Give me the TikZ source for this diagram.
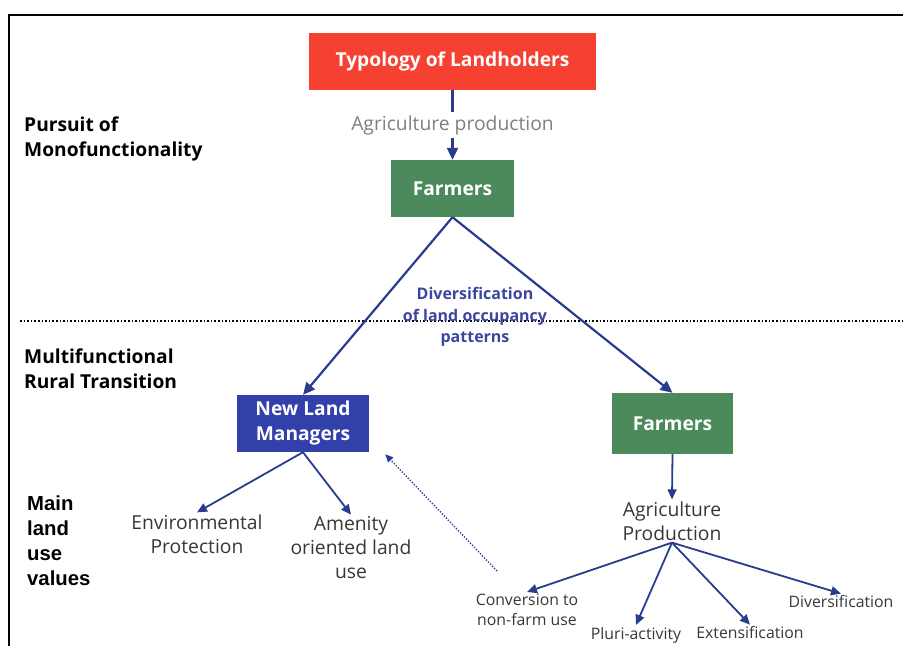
\documentclass[tikz,border=0pt]{standalone}
\usepackage{fontspec}
\setmainfont{Open Sans}
\newfontfamily\arialfont{Liberation Sans}
\usetikzlibrary{arrows.meta, positioning}

\definecolor{typred}{RGB}{246,64,50}
\definecolor{farmgreen}{RGB}{76,138,92}
\definecolor{nlmblue}{RGB}{50,64,170}
\definecolor{arrowblue}{RGB}{42,60,142}
\definecolor{divblue}{RGB}{60,70,160}
\definecolor{softgray}{RGB}{128,128,128}
\definecolor{darktext}{RGB}{55,55,55}

\begin{document}
\begin{tikzpicture}[x=1pt, y=-1pt,
      box/.style   = {inner sep=0pt, align=center, text=white,
                      font=\fontsize{19.2}{25}\selectfont\bfseries},
      side/.style  = {anchor=west, align=left, inner sep=0pt,
                      font=\fontsize{19.2}{25}\selectfont\bfseries},
      val/.style   = {align=center, inner sep=2pt, text=darktext,
                      font=\fontsize{19.3}{24}\selectfont},
      small/.style = {align=center, inner sep=2pt, text=darktext,
                      font=\fontsize{15.8}{20}\selectfont},
      arr/.style   = {-{Triangle[length=12pt, width=11pt]}, line width=2.2pt, arrowblue},
      tarr/.style  = {-{Triangle[length=10pt, width=9pt]}, line width=1.8pt, arrowblue},
      darr/.style  = {-{Triangle[length=8pt, width=7pt]}, line width=1.4pt, arrowblue,
                      dash pattern=on 1.3pt off 1.6pt}
    ]
    \useasboundingbox (0,0) rectangle (903,646);

    % ---- frame and separator ----
    \coordinate (frameb) at (9,646);
    \coordinate (framec) at (9,15);
    \coordinate (framer) at (903,15);
    \draw[line width=1.3pt] (frameb) -- (framec) -- (framer);
    \coordinate (sepl) at (20,321);
    \coordinate (sepr) at (903,321);
    \draw[line width=1.6pt, dotted] (sepl) -- (sepr);

    % ---- side labels ----
    \node[side] (pursuit) at (24,139) {Pursuit of\\Monofunctionality};
    \node[side] (multi)   at (24,369) {Multifunctional\\Rural Transition};
    \node[side, font=\arialfont\fontsize{20.3}{25}\selectfont\bfseries]
          (mainval) at (27,541) {Main\\land\\use\\values};

    % ---- top of the tree ----
    \node[box, fill=typred, minimum width=287pt, minimum height=57pt]
          (typ)   at (452.5,61.5) {Typology of Landholders};
    \node[box, fill=farmgreen, minimum width=123pt, minimum height=57pt]
          (farm)  at (452.5,188.5) {Farmers};

    \draw[arr] (typ) -- node[fill=white, inner sep=3pt, text=softgray,
          font=\fontsize{19.3}{22}\selectfont, pos=0.5] {Agriculture production} (farm);

    % ---- second level ----
    \node[box, fill=nlmblue, minimum width=132pt, minimum height=57pt]
          (nlm)   at (303,423.5) {New Land\\Managers};
    \node[box, fill=farmgreen, minimum width=121pt, minimum height=61pt]
          (farm2) at (672.5,423.5) {Farmers};

    \draw[arr] (farm.south) -- (nlm.north);
    \draw[arr] (farm.south) -- (farm2.north);
    \node[text=divblue, align=center, font=\fontsize{16}{21.5}\selectfont\bfseries]
          (divers) at (475,317) {Diversification\\of land occupancy\\patterns};

    % ---- new land managers side ----
    \node[val] (env)   at (197,534) {Environmental\\Protection};
    \node[val] (amen)  at (351,548) {Amenity\\oriented land\\use};
    \draw[tarr] (nlm.south) -- (env.north);
    \draw[tarr] (nlm.south) -- (amen.north);

    % ---- farmers side ----
    \node[val] (agri)  at (672,521) {Agriculture\\Production};
    \draw[tarr] (farm2.south) -- (agri.north);

    \node[small] (conv)  at (527,610) {Conversion to\\non-farm use};
    \node[small] (pluri) at (636,635) {Pluri-activity};
    \node[small] (ext)   at (750,633) {Extensification};
    \node[small] (div)   at (841,602) {Diversification};
    \draw[tarr] (agri.south) -- (conv.north);
    \draw[tarr] (agri.south) -- (pluri.north);
    \draw[tarr] (agri.south) -- (ext.north);
    \draw[tarr] (agri.south) -- (div.north);

    % ---- dotted return arrow ----
    \coordinate (convtail) at (497,571);
    \draw[darr] (convtail) -- ([shift={(16,2)}]nlm.south east);

  \end{tikzpicture}
\end{document}
